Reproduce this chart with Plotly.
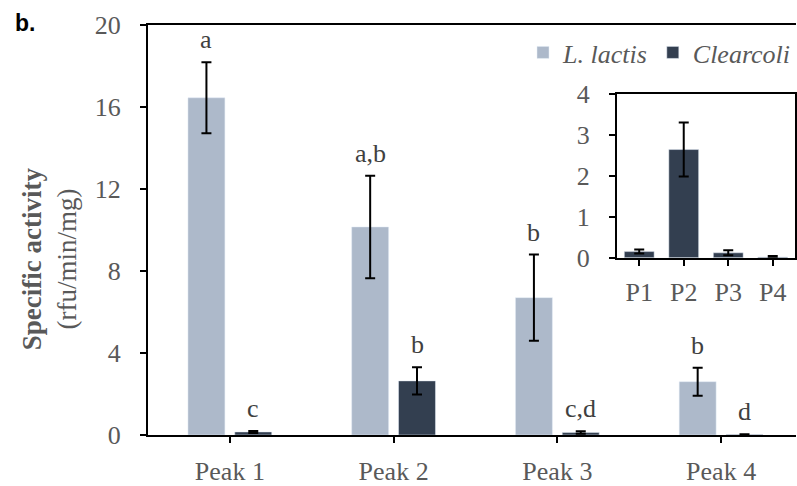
import plotly.graph_objects as go

categories = ["Peak 1", "Peak 2", "Peak 3", "Peak 4"]
inset_categories = ["P1", "P2", "P3", "P4"]
lactis_vals = [16.45, 10.15, 6.7, 2.6]
lactis_err = [1.73, 2.5, 2.1, 0.68]
clear_vals = [0.15, 2.64, 0.12, 0.02]
clear_err = [0.05, 0.66, 0.06, 0.02]
lactis_letters = ["a", "a,b", "b", "b"]
clear_letters = ["c", "b", "c,d", "d"]
y_ticks = [0, 4, 8, 12, 16, 20]
inset_ticks = [0, 1, 2, 3, 4]

C_LACTIS = "#ADB9CA"
C_CLEAR = "#333F50"
FONT = "Liberation Serif"
GRAY = "#595959"
FS = 26

W = 0.2256
OFF_L = -0.256
OFF_C = 0.030
xs = list(range(len(categories)))

fig = go.Figure()
fig.add_trace(go.Bar(
    x=xs, y=lactis_vals, name="<i>L. lactis</i>", marker_color=C_LACTIS,
    width=W, offset=OFF_L,
    error_y=dict(type="data", array=lactis_err, color="black", thickness=2, width=5),
    xaxis="x", yaxis="y"))
fig.add_trace(go.Bar(
    x=xs, y=clear_vals, name="<i>Clearcoli</i>", marker_color=C_CLEAR,
    width=W, offset=OFF_C,
    error_y=dict(type="data", array=clear_err, color="black", thickness=2, width=5),
    xaxis="x", yaxis="y"))
fig.add_trace(go.Bar(
    x=list(range(len(inset_categories))), y=clear_vals, marker_color=C_CLEAR,
    width=0.67, showlegend=False,
    error_y=dict(type="data", array=clear_err, color="black", thickness=2, width=5),
    xaxis="x2", yaxis="y2"))

for i in xs:
    fig.add_annotation(x=i + OFF_L + W / 2, y=lactis_vals[i] + lactis_err[i],
                       text=lactis_letters[i], showarrow=False, yanchor="bottom",
                       yshift=6, font=dict(family=FONT, size=FS, color="#404040"))
    fig.add_annotation(x=i + OFF_C + W / 2, y=clear_vals[i] + clear_err[i],
                       text=clear_letters[i], showarrow=False, yanchor="bottom",
                       yshift=6, font=dict(family=FONT, size=FS, color="#404040"))

fig.add_annotation(xref="paper", yref="paper", x=(49 - 148) / 649, y=(442 - 263) / 417,
                   text="<b>Specific activity</b><br>(rfu/min/mg)", textangle=-90,
                   showarrow=False, xanchor="center", yanchor="middle",
                   font=dict(family=FONT, size=27, color=GRAY))
fig.add_annotation(xref="paper", yref="paper", x=(13 - 148) / 649, y=(442 - 23) / 417,
                   text="<b>b.</b>", showarrow=False, xanchor="left", yanchor="middle",
                   font=dict(family="Liberation Sans", size=23, color="black"))

axis_common = dict(showline=True, linecolor="black", linewidth=2,
                   ticks="outside", ticklen=6, tickcolor="black", tickwidth=2,
                   showgrid=False, zeroline=False,
                   tickfont=dict(family=FONT, size=FS, color=GRAY))

fig.update_layout(
    width=797, height=486,
    margin=dict(l=148, r=0, t=25, b=44),
    paper_bgcolor="white", plot_bgcolor="white",
    font=dict(family=FONT, size=FS, color=GRAY),
    barmode="overlay",
    showlegend=True,
    legend=dict(orientation="h", x=1.0, xanchor="right", y=(442 - 53) / 417,
                yanchor="middle", font=dict(family=FONT, size=FS, color=GRAY),
                bgcolor="rgba(0,0,0,0)", itemwidth=30),
    xaxis=dict(domain=[0, 1], range=[-0.5, -0.5 + 649 / 164], tickvals=xs,
               ticktext=categories, mirror=True, ticklabelstandoff=6, **axis_common),
    yaxis=dict(domain=[0, 1], range=[0, 20], tickvals=y_ticks,
               ticklabelstandoff=14, **axis_common),
    xaxis2=dict(domain=[(617.7 - 148) / 649, (796 - 148) / 649], anchor="y2",
                range=[-0.5, 3.5], tickvals=list(range(4)), ticktext=inset_categories,
                mirror=True, ticklabelstandoff=4, **axis_common),
    yaxis2=dict(domain=[(442 - 261.7) / 417, (442 - 95) / 417], anchor="x2",
                range=[0, 4], tickvals=inset_ticks, mirror=True,
                ticklabelstandoff=14, **axis_common),
)

fig.write_html("out.html")
